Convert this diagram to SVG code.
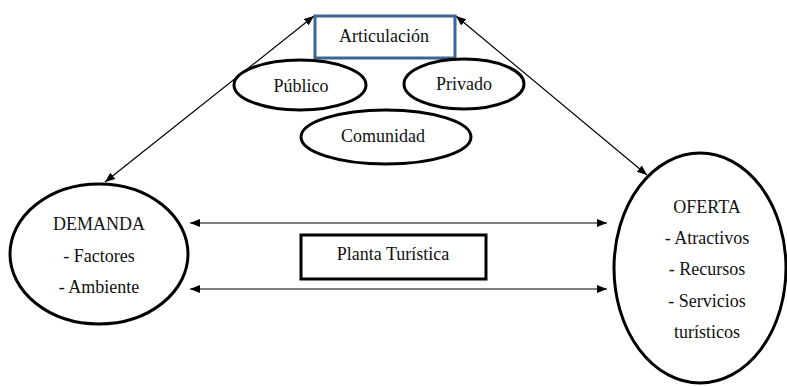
<svg xmlns="http://www.w3.org/2000/svg" width="787" height="386" viewBox="0 0 787 386">
<style>
text{font-family:"Liberation Serif","Times New Roman",serif;font-size:18px;fill:#111;text-anchor:middle}
.n{fill:#fff;stroke:#000;stroke-width:3}
.c{stroke:#000;stroke-width:1.2;fill:none;marker-start:url(#a);marker-end:url(#a)}
</style>
<defs>
<marker id="a" viewBox="0 0 10 10" refX="10" refY="5" markerWidth="10" markerHeight="10" markerUnits="userSpaceOnUse" orient="auto-start-reverse">
<path d="M0,1 L10,5 L0,9 Z" fill="#000"/>
</marker>
</defs>
<rect width="787" height="386" fill="#fff"/>
<g id="connectors">
<line class="c" x1="105" y1="182" x2="314" y2="16"/>
<line class="c" x1="456" y1="16" x2="647" y2="175"/>
<line class="c" x1="190" y1="223" x2="607" y2="223"/>
<line class="c" x1="190" y1="289" x2="607" y2="289"/>
</g>
<g id="articulacion">
<rect x="315" y="16" width="140" height="42" fill="#fff" stroke="#3A6594" stroke-width="3"/>
<text x="384" y="42">Articulación</text>
</g>
<g id="publico">
<ellipse class="n" cx="300" cy="85" rx="66" ry="25"/>
<text x="301" y="92">Público</text>
</g>
<g id="privado">
<ellipse class="n" cx="464" cy="84" rx="60" ry="25"/>
<text x="464" y="90">Privado</text>
</g>
<g id="comunidad">
<ellipse class="n" cx="386" cy="137" rx="85" ry="27"/>
<text x="383" y="142">Comunidad</text>
</g>
<g id="demanda">
<ellipse class="n" cx="99" cy="254" rx="89" ry="70"/>
<text x="99" y="230">DEMANDA</text>
<text x="99" y="262">- Factores</text>
<text x="99" y="293">- Ambiente</text>
</g>
<g id="planta">
<rect class="n" x="301" y="235" width="185" height="44"/>
<text x="393" y="260">Planta Turística</text>
</g>
<g id="oferta">
<ellipse class="n" cx="700" cy="268" rx="86" ry="115"/>
<text x="707" y="213">OFERTA</text>
<text x="707" y="244">- Atractivos</text>
<text x="707" y="275">- Recursos</text>
<text x="707" y="307">- Servicios</text>
<text x="707" y="338">turísticos</text>
</g>
</svg>
